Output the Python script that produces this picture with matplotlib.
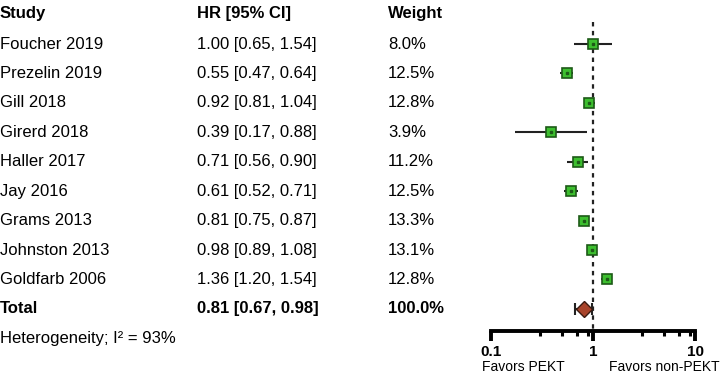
import matplotlib
matplotlib.use("Agg")
import matplotlib.pyplot as plt
from matplotlib.transforms import blended_transform_factory

plt.rcParams['font.family'] = ['Liberation Sans', 'DejaVu Sans']

studies = ["Foucher 2019", "Prezelin 2019", "Gill 2018", "Girerd 2018", "Haller 2017",
           "Jay 2016", "Grams 2013", "Johnston 2013", "Goldfarb 2006"]
hr = [1.00, 0.55, 0.92, 0.39, 0.71, 0.61, 0.81, 0.98, 1.36]
lo = [0.65, 0.47, 0.81, 0.17, 0.56, 0.52, 0.75, 0.89, 1.20]
hi = [1.54, 0.64, 1.04, 0.88, 0.90, 0.71, 0.87, 1.08, 1.54]
weights = ["8.0%", "12.5%", "12.8%", "3.9%", "11.2%", "12.5%", "13.3%", "13.1%", "12.8%"]
total_label = "Total"
total_hr, total_lo, total_hi = 0.81, 0.67, 0.98
total_weight = "100.0%"
headers = ["Study", "HR [95% CI]", "Weight"]
heterogeneity = "Heterogeneity; I² = 93%"
xticks = [0.1, 1, 10]
xtick_labels = ["0.1", "1", "10"]
minor_ticks = [0.3, 0.5, 0.7, 0.9, 3, 5, 7, 9]
favors_left = "Favors PEKT"
favors_right = "Favors non-PEKT"

fig = plt.figure(figsize=(7.2, 3.78), dpi=100)
ax = fig.add_axes([491/720, 47/378, 204/720, (331-8.7)/378])
ax.set_xscale('log')
ax.set_xlim(0.1, 10)
ax.set_ylim(9.75, -1.2)

n = len(studies)
rows = list(range(n))
green = '#3dbf2f'
dkgreen = '#1d5a17'
for i in rows:
    ax.plot([lo[i], hi[i]], [i, i], color='#222222', lw=1.5, zorder=2, solid_capstyle='butt')
    ax.plot(hr[i], i, marker='s', ms=6.5, mfc=green, mec=dkgreen, mew=1.2, zorder=3)
    ax.plot(hr[i], i, marker='s', ms=1.8, mfc=dkgreen, mec=dkgreen, zorder=4)

ax.errorbar(total_hr, n, xerr=[[total_hr - total_lo], [total_hi - total_hr]], fmt='none',
            ecolor='#222222', elinewidth=1.5, capsize=4.5, capthick=1.5, zorder=2)
ax.plot(total_hr, n, marker='D', ms=8.5, mfc='#a8432a', mec='#3a1a10', mew=1.0, zorder=3)

ax.plot([1, 1], [-0.75, 9.75], color='#222222', lw=1.6, ls=(0, (2, 2)), zorder=1)

for s in ['top', 'right', 'left']:
    ax.spines[s].set_visible(False)
ax.spines['bottom'].set_linewidth(2.8)
ax.set_yticks([])
ax.set_xticks(xticks)
ax.set_xticks(minor_ticks, minor=True)
ax.set_xticklabels(xtick_labels, fontsize=11, fontweight='bold')
ax.tick_params(axis='x', which='major', direction='out', length=7, width=2.8, pad=3)
ax.tick_params(axis='x', which='minor', direction='out', length=3.5, width=2.2)
ax.xaxis.set_minor_formatter(plt.NullFormatter())

tr = blended_transform_factory(fig.transFigure, ax.transData)
cols = [0.0 / 720, 197 / 720, 388 / 720]
fs = 12
for c, h in zip(cols, headers):
    fig.text(c, -1.05, h, transform=tr, fontsize=fs, fontweight='bold', va='center', ha='left')
for i in rows:
    fig.text(cols[0], i, studies[i], transform=tr, fontsize=fs, va='center')
    fig.text(cols[1], i, f"{hr[i]:.2f} [{lo[i]:.2f}, {hi[i]:.2f}]", transform=tr, fontsize=fs, va='center')
    fig.text(cols[2], i, weights[i], transform=tr, fontsize=fs, va='center')
fig.text(cols[0], n, total_label, transform=tr, fontsize=fs, fontweight='bold', va='center')
fig.text(cols[1], n, f"{total_hr:.2f} [{total_lo:.2f}, {total_hi:.2f}]", transform=tr,
         fontsize=fs, fontweight='bold', va='center')
fig.text(cols[2], n, total_weight, transform=tr, fontsize=fs, fontweight='bold', va='center')
fig.text(cols[0], 1 - 339/378, heterogeneity, fontsize=fs, va='center')

fig.text(482/720, 1 - 367/378, favors_left, fontsize=10, va='center', ha='left')
fig.text(1.0, 1 - 367/378, favors_right, fontsize=10, va='center', ha='right')

fig.savefig("out.png", dpi=100)
